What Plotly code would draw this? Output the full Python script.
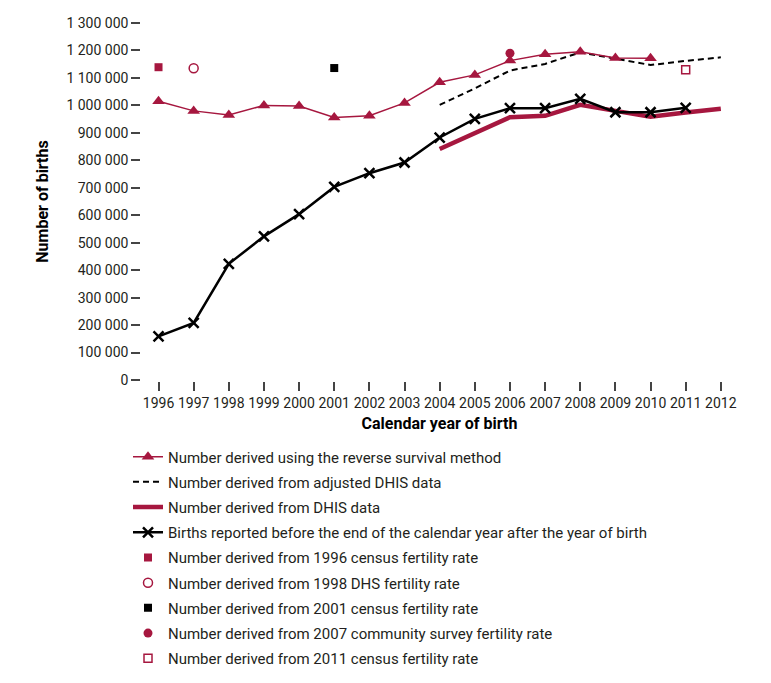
import plotly.graph_objects as go

RED = "#a6173f"
FONT = "Roboto, Lato, sans-serif"
TXT = "#231f20"

# ---- data ----
years_rs = list(range(1996, 2011))
reverse_survival = [1015000, 980000, 965000, 1000000, 998000, 956000, 962000, 1009000,
                    1084000, 1111000, 1163000, 1186000, 1195000, 1173000, 1172000]

years_dhis = list(range(2004, 2013))
adjusted_dhis = [1002000, 1062000, 1127000, 1151000, 1193000, 1170000, 1147000, 1162000, 1175000]
dhis = [841000, 899000, 957000, 962000, 1002000, 980000, 959000, 974000, 988000]

years_reported = list(range(1996, 2012))
births_reported = [159000, 208000, 423000, 523000, 604000, 703000, 753000, 792000,
                   883000, 951000, 990000, 990000, 1024000, 975000, 975000, 991000]

census1996_x, census1996_y = [1996], [1139000]
dhs1998_x, dhs1998_y = [1997], [1135000]
census2001_x, census2001_y = [2001], [1136000]
cs2007_x, cs2007_y = [2006], [1190000]
census2011_x, census2011_y = [2011], [1130000]

x_ticks = list(range(1996, 2013))
y_ticks = list(range(0, 1300001, 100000))
y_ticktext = ["0"] + [f"{v:,}".replace(",", " ") for v in y_ticks[1:]]

names = [
    "Number derived using the reverse survival method",
    "Number derived from adjusted DHIS data",
    "Number derived from DHIS data",
    "Births reported before the end of the calendar year after the year of birth",
    "Number derived from 1996 census fertility rate",
    "Number derived from 1998 DHS fertility rate",
    "Number derived from 2001 census fertility rate",
    "Number derived from 2007 community survey fertility rate",
    "Number derived from 2011 census fertility rate",
]

fig = go.Figure()
fig.add_trace(go.Scatter(x=years_rs, y=reverse_survival, mode="lines+markers", name=names[0],
                         line=dict(color=RED, width=1.5),
                         marker=dict(symbol="triangle-up", size=11, color=RED),
                         legendgroup="g0", zorder=2))
fig.add_trace(go.Scatter(x=years_dhis, y=adjusted_dhis, mode="lines", name=names[1],
                         line=dict(color="black", width=2, dash="6px,4px"),
                         legendgroup="g1", zorder=1))
fig.add_trace(go.Scatter(x=years_dhis, y=dhis, mode="lines", name=names[2],
                         line=dict(color=RED, width=4.5),
                         legendgroup="g2", zorder=0))
fig.add_trace(go.Scatter(x=years_reported, y=births_reported, mode="lines+markers", name=names[3],
                         line=dict(color="black", width=2.5),
                         marker=dict(symbol="x-thin", size=10, line=dict(color="black", width=2.5)),
                         legendgroup="g3", zorder=3))
fig.add_trace(go.Scatter(x=census1996_x, y=census1996_y, mode="markers", name=names[4],
                         marker=dict(symbol="square", size=8, color=RED),
                         legendgroup="g4", zorder=4))
fig.add_trace(go.Scatter(x=dhs1998_x, y=dhs1998_y, mode="markers", name=names[5],
                         marker=dict(symbol="circle-open", size=9, color=RED, line=dict(width=1.5)),
                         legendgroup="g5", zorder=4))
fig.add_trace(go.Scatter(x=census2001_x, y=census2001_y, mode="markers", name=names[6],
                         marker=dict(symbol="square", size=8, color="black"),
                         legendgroup="g6", zorder=4))
fig.add_trace(go.Scatter(x=cs2007_x, y=cs2007_y, mode="markers", name=names[7],
                         marker=dict(symbol="circle", size=9, color=RED),
                         legendgroup="g7", zorder=4))
fig.add_trace(go.Scatter(x=census2011_x, y=census2011_y, mode="markers", name=names[8],
                         marker=dict(symbol="square-open", size=8, color=RED, line=dict(width=1.5)),
                         legendgroup="g8", zorder=4))

# page body has an 8px default margin: figure is sized to fit the window
fig.update_layout(
    width=763, height=675,
    margin=dict(l=134, r=34, t=15, b=302.5, pad=0, autoexpand=False),
    paper_bgcolor="white", plot_bgcolor="white",
    font=dict(family=FONT, size=14, color=TXT),
    showlegend=True,
    legend=dict(
        x=(128 - 142) / 595, y=(380.5 - 441) / 357.5, xanchor="left", yanchor="top",
        font=dict(family=FONT, size=15, color=TXT),
        tracegroupgap=2.7, bgcolor="rgba(0,0,0,0)", borderwidth=0,
        itemclick=False, itemdoubleclick=False,
    ),
    xaxis=dict(
        range=[1995.53, 2012.46], tickvals=x_ticks, ticktext=[str(v) for v in x_ticks],
        showgrid=False, zeroline=False, showline=True, linecolor=TXT, linewidth=1.5,
        ticks="outside", ticklen=9, tickwidth=1.5, tickcolor="#444444",
        tickfont=dict(family=FONT, size=14, color=TXT), automargin=False,
        title=dict(text="<b>Calendar year of birth</b>", font=dict(family=FONT, size=16, color="#000000"), standoff=8),
    ),
    yaxis=dict(
        range=[0, 1300000], tickvals=y_ticks, ticktext=y_ticktext,
        showgrid=False, zeroline=False, showline=True, linecolor=TXT, linewidth=1.5,
        ticks="outside", ticklen=9, tickwidth=1.5, tickcolor="#444444",
        tickfont=dict(family=FONT, size=14, color=TXT), automargin=False,
        title=dict(text="<b>Number of births</b>", font=dict(family=FONT, size=16, color="#000000"), standoff=14),
    ),
)

fig.write_html("out.html")
